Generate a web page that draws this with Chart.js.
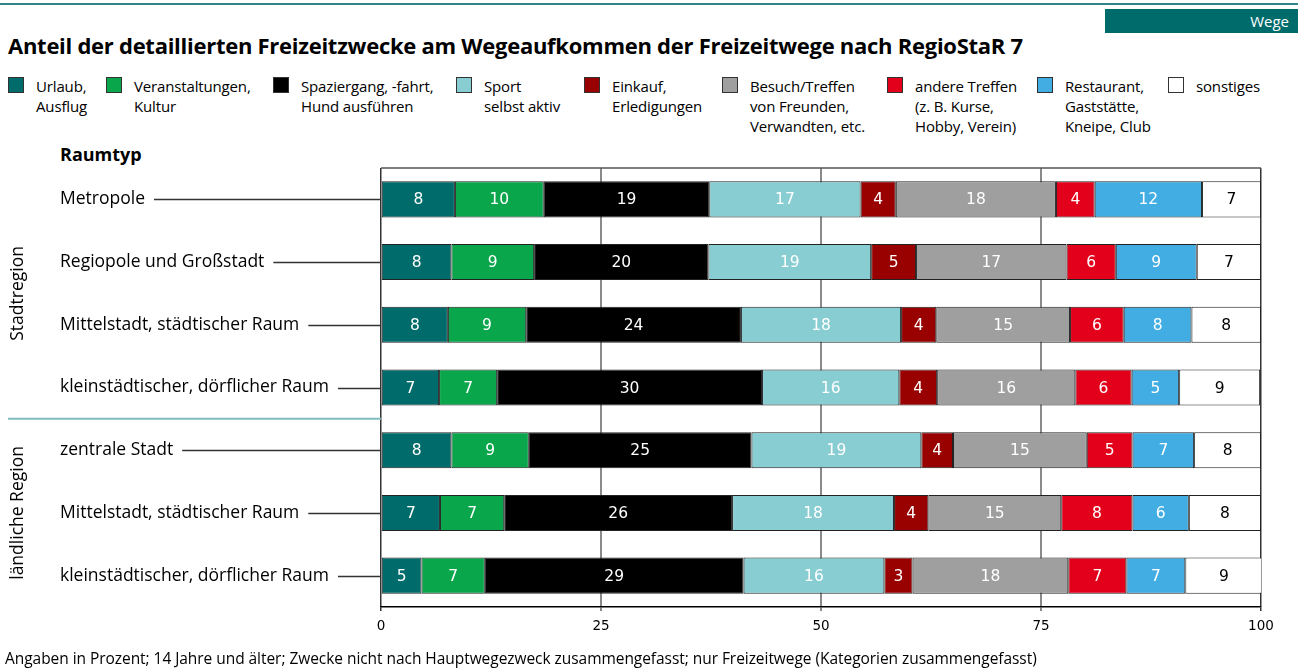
<!DOCTYPE html>
<html lang="de">
<head>
<meta charset="utf-8">
<title>Freizeitzwecke nach RegioStaR 7</title>
<script src="https://cdn.jsdelivr.net/npm/chart.js@4/dist/chart.umd.min.js"></script>
<style>
    html, body { margin: 0; padding: 0; background: #fff; }
    body { width: 1298px; height: 669px; position: relative; overflow: hidden; font-family: "Open Sans", "Noto Sans", sans-serif; color: #000; }
    #chart { position: absolute; left: 0; top: 0; }
    .topline { position: absolute; left: 0; top: 3px; width: 1298px; height: 2px; background: #2f8585; }
    .tag { position: absolute; left: 1105px; top: 9px; width: 193px; height: 24px; background: #006b6b; color: #fff; font-size: 15px; line-height: 24px; text-align: right; box-sizing: border-box; padding-right: 9px; }
    .title { position: absolute; left: 8px; top: 30px; font-size: 22px; font-weight: 700; white-space: nowrap; letter-spacing: -0.27px; }
    .legend-item { position: absolute; top: 76px; font-size: 15px; line-height: 20px; white-space: pre-line; letter-spacing: -0.15px; }
    .legend-item .box { position: absolute; top: 1px; width: 14px; height: 14px; border: 1px solid #333; }
    .raumtyp { position: absolute; left: 60px; top: 142px; font-size: 18px; font-weight: 700; }
    .note { position: absolute; left: 5px; top: 647px; font-size: 15.5px; white-space: nowrap; letter-spacing: -0.05px; }
</style>
</head>
<body>
<div class="topline"></div>
<div class="tag">Wege</div>
<div class="title">Anteil der detaillierten Freizeitzwecke am Wegeaufkommen der Freizeitwege nach RegioStaR 7</div>
<div id="legend"></div>
<div class="raumtyp">Raumtyp</div>
<canvas id="chart" width="1298" height="669"></canvas>
<div class="note">Angaben in Prozent; 14 Jahre und älter; Zwecke nicht nach Hauptwegezweck zusammengefasst; nur Freizeitwege (Kategorien zusammengefasst)</div>

<script>
// Raumtypen (top to bottom)
const categories = [
    'Metropole',
    'Regiopole und Großstadt',
    'Mittelstadt, städtischer Raum',
    'kleinstädtischer, dörflicher Raum',
    'zentrale Stadt',
    'Mittelstadt, städtischer Raum',
    'kleinstädtischer, dörflicher Raum'
];

const groups = [
    { label: 'Stadtregion', from: 0, to: 3 },
    { label: 'ländliche Region', from: 4, to: 6 }
];

const seriesNames = [
    'Urlaub,\nAusflug',
    'Veranstaltungen,\nKultur',
    'Spaziergang, -fahrt,\nHund ausführen',
    'Sport\nselbst aktiv',
    'Einkauf,\nErledigungen',
    'Besuch/Treffen\nvon Freunden,\nVerwandten, etc.',
    'andere Treffen\n(z. B. Kurse,\nHobby, Verein)',
    'Restaurant,\nGaststätte,\nKneipe, Club',
    'sonstiges'
];

// shares in percent
const urlaub        = [8.4, 8.0, 7.6, 6.6, 8.0, 6.7, 4.6];
const veranstaltung = [10.1, 9.4, 8.9, 6.6, 8.8, 7.3, 7.2];
const spaziergang   = [18.8, 19.8, 24.4, 30.1, 25.3, 25.9, 29.4];
const sport         = [17.2, 18.5, 18.2, 15.6, 19.3, 18.4, 16.0];
const einkauf       = [4.0, 5.1, 4.0, 4.3, 3.6, 3.9, 3.2];
const besuch        = [18.2, 17.1, 15.2, 15.7, 15.2, 15.1, 17.7];
const andereTreffen = [4.4, 5.6, 6.1, 6.4, 5.2, 8.1, 6.6];
const restaurant    = [12.2, 9.2, 7.7, 5.4, 7.0, 6.4, 6.7];
const sonstiges     = [6.7, 7.3, 7.9, 9.2, 7.6, 8.2, 8.8];

const xTicks = [0, 25, 50, 75, 100];

const seriesValues = [urlaub, veranstaltung, spaziergang, sport, einkauf, besuch, andereTreffen, restaurant, sonstiges];
const colors = ['#006b6b', '#0aa64b', '#000000', '#88cdd2', '#990000', '#9f9f9f', '#e2001a', '#41ade3', '#ffffff'];
const labelColors = ['#fff', '#fff', '#fff', '#fff', '#fff', '#fff', '#fff', '#fff', '#000'];
const legendX = [36, 134, 301, 484, 612, 750, 915, 1065, 1196];

// Legend (HTML, built from the series names)
const legendEl = document.getElementById('legend');
seriesNames.forEach((name, i) => {
    const item = document.createElement('div');
    item.className = 'legend-item';
    item.style.left = legendX[i] + 'px';
    item.textContent = name;
    const box = document.createElement('span');
    box.className = 'box';
    box.style.left = '-28px';
    box.style.background = colors[i];
    item.appendChild(box);
    legendEl.appendChild(item);
});

// Value labels inside the bars
const barLabels = {
    id: 'barLabels',
    afterDatasetsDraw(chart) {
        const ctx = chart.ctx;
        ctx.save();
        ctx.font = '15.5px "DejaVu Sans", sans-serif';
        ctx.textAlign = 'center';
        ctx.textBaseline = 'middle';
        chart.data.datasets.forEach((ds, i) => {
            const meta = chart.getDatasetMeta(i);
            meta.data.forEach((bar, j) => {
                ctx.fillStyle = labelColors[i];
                ctx.fillText(String(Math.round(ds.data[j])), (bar.x + bar.base) / 2, bar.y + 1);
            });
        });
        ctx.restore();
    }
};

// Frame, category labels with leader lines, group labels, separator
const sideLabels = {
    id: 'sideLabels',
    beforeDatasetsDraw(chart) {
        const { ctx, chartArea } = chart;
        ctx.save();
        ctx.strokeStyle = '#555';
        ctx.lineWidth = 1.5;
        ctx.beginPath();
        ctx.moveTo(chartArea.left, chartArea.top);
        ctx.lineTo(chartArea.right, chartArea.top);
        ctx.stroke();
        ctx.restore();
    },
    afterDraw(chart) {
        const { ctx, chartArea } = chart;
        const yScale = chart.scales.y;
        ctx.save();
        ctx.font = '17.5px "Open Sans", sans-serif';
        ctx.textBaseline = 'middle';
        ctx.fillStyle = '#000';
        categories.forEach((cat, i) => {
            const y = yScale.getPixelForValue(i);
            ctx.fillText(cat, 60, y);
            const w = ctx.measureText(cat).width;
            ctx.strokeStyle = '#333';
            ctx.lineWidth = 1.3;
            ctx.beginPath();
            ctx.moveTo(60 + w + 9, Math.round(y) + 0.5);
            ctx.lineTo(chartArea.left, Math.round(y) + 0.5);
            ctx.stroke();
        });

        // separator between the two regions
        const sepY = (yScale.getPixelForValue(groups[0].to) + yScale.getPixelForValue(groups[1].from)) / 2;
        ctx.strokeStyle = '#80bcbc';
        ctx.lineWidth = 2;
        ctx.beginPath();
        ctx.moveTo(8, sepY);
        ctx.lineTo(chartArea.left, sepY);
        ctx.stroke();

        // rotated group labels
        ctx.textAlign = 'center';
        groups.forEach(g => {
            const cy = (yScale.getPixelForValue(g.from) + yScale.getPixelForValue(g.to)) / 2;
            ctx.save();
            ctx.translate(18, cy);
            ctx.rotate(-Math.PI / 2);
            ctx.fillText(g.label, 0, 0);
            ctx.restore();
        });
        ctx.restore();
    }
};

new Chart(document.getElementById('chart'), {
    type: 'bar',
    data: {
        labels: categories,
        datasets: seriesValues.map((values, i) => ({
            label: seriesNames[i].replace(/\n/g, ' '),
            data: values,
            backgroundColor: colors[i],
            borderColor: '#222',
            borderWidth: 1,
            borderSkipped: false,
            categoryPercentage: 1,
            barPercentage: 0.575
        }))
    },
    options: {
        indexAxis: 'y',
        responsive: false,
        animation: false,
        layout: {
            padding: { left: 381, top: 168, right: 37, bottom: 32 }
        },
        plugins: {
            legend: { display: false },
            tooltip: { enabled: false }
        },
        scales: {
            x: {
                stacked: true,
                min: xTicks[0],
                max: xTicks[xTicks.length - 1],
                afterBuildTicks: scale => {
                    scale.ticks = xTicks.map(v => ({ value: v }));
                },
                afterFit: scale => {
                    scale.height = 30;
                },
                ticks: {
                    color: '#000',
                    padding: 7,
                    font: { family: '"DejaVu Sans", sans-serif', size: 13.5 }
                },
                grid: {
                    color: c => (c.tick && (c.tick.value === 0 || c.tick.value === 100)) ? '#333' : '#8a8a8a',
                    lineWidth: c => (c.tick && (c.tick.value === 0 || c.tick.value === 100)) ? 1.5 : 2,
                    tickLength: 4
                },
                border: { color: '#000', width: 1.5 }
            },
            y: {
                stacked: true,
                display: false
            }
        }
    },
    plugins: [barLabels, sideLabels]
});
</script>
</body>
</html>
